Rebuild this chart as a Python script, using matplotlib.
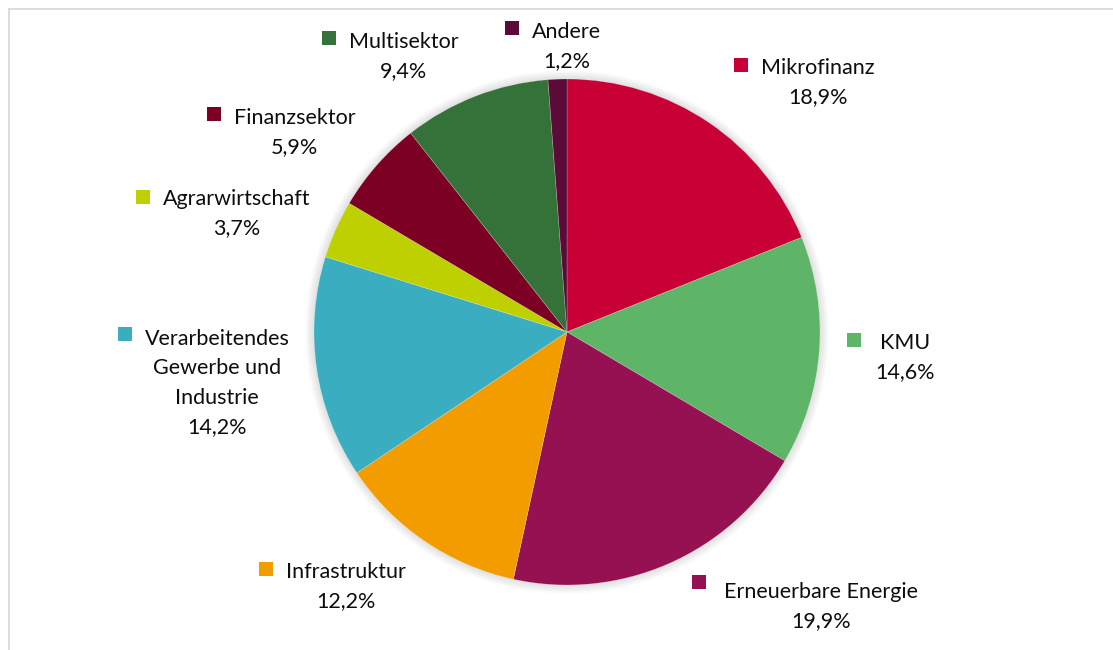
import matplotlib
matplotlib.use("Agg")
import matplotlib.pyplot as plt
from matplotlib.patches import Circle, Rectangle
from matplotlib.lines import Line2D

# ---- data ----
categories = ["Mikrofinanz", "KMU", "Erneuerbare Energie", "Infrastruktur",
              "Verarbeitendes\nGewerbe und\nIndustrie", "Agrarwirtschaft",
              "Finanzsektor", "Multisektor", "Andere"]
shares = [18.9, 14.6, 19.9, 12.2, 14.2, 3.7, 5.9, 9.4, 1.2]
colors = ["#C80036", "#5EB567", "#951152", "#F29C00", "#3AADC1",
          "#BED000", "#7B0024", "#35723A", "#5C0A37"]

# ---- layout (pixel positions of label blocks: centre x, first-line y) ----
W, H = 1113, 650
label_pos = [(818, 66), (905, 341), (821, 590), (346, 570), (217, 337),
             (237, 197), (294.5, 116), (403.5, 40), (566.5, 30)]
key_gap = [13, 19, 18, 13, 13, 13, 13, 13, 13]
key_dy = [-1, -1, -8, -1, -3, 0, -2, -2, -2]
line_step = 29.5
cx_px, cy_px, r_px = 567, 332, 253

plt.rcParams['font.family'] = ['Lato', 'DejaVu Sans']
fig = plt.figure(figsize=(W / 100, H / 100), dpi=100)
ax = fig.add_axes([0, 0, 1, 1])
ax.axis('off')

# soft shadow
for k in range(10):
    ax.add_patch(Circle((0, 0), 1 + 0.0035 * (k + 1), color='black',
                        alpha=0.012, lw=0, zorder=0))

ax.pie(shares, colors=colors, startangle=90, counterclock=False, radius=1,
       wedgeprops=dict(linewidth=0.4, edgecolor=(1, 1, 1, 0.35)))
ax.set_aspect('auto')
ax.set_xlim(-cx_px / r_px, (W - cx_px) / r_px)
ax.set_ylim((cy_px - H) / r_px, cy_px / r_px)

def fx(px):
    return px / W

def fy(py):
    return 1 - py / H

fig.canvas.draw()
renderer = fig.canvas.get_renderer()
fs = 15.5
for name, val, col, (lx, ly), gap, dy in zip(categories, shares, colors,
                                             label_pos, key_gap, key_dy):
    lines = name.split("\n") + [f"{val:.1f}%".replace(".", ",")]
    first = None
    for i, line in enumerate(lines):
        t = fig.text(fx(lx), fy(ly + i * line_step), line, ha='center',
                     va='center_baseline', fontsize=fs, color='#0d0d0d')
        if i == 0:
            first = t
    bb = first.get_window_extent(renderer=renderer)
    left_px = bb.x0
    sq = 14
    x_sq = left_px - gap - sq
    y_c = fy(ly + dy) * H
    fig.patches.append(Rectangle((x_sq / W, (y_c - sq / 2) / H), sq / W, sq / H,
                                 transform=fig.transFigure, facecolor=col,
                                 edgecolor='none', figure=fig))

# frame
fig.lines.append(Line2D([fx(9), fx(9)], [fy(9), 0], transform=fig.transFigure,
                        color='#D9D9D9', lw=1.3, figure=fig))
fig.lines.append(Line2D([fx(9), 1], [fy(9), fy(9)], transform=fig.transFigure,
                        color='#D9D9D9', lw=1.3, figure=fig))

fig.savefig("out.png", dpi=100)
